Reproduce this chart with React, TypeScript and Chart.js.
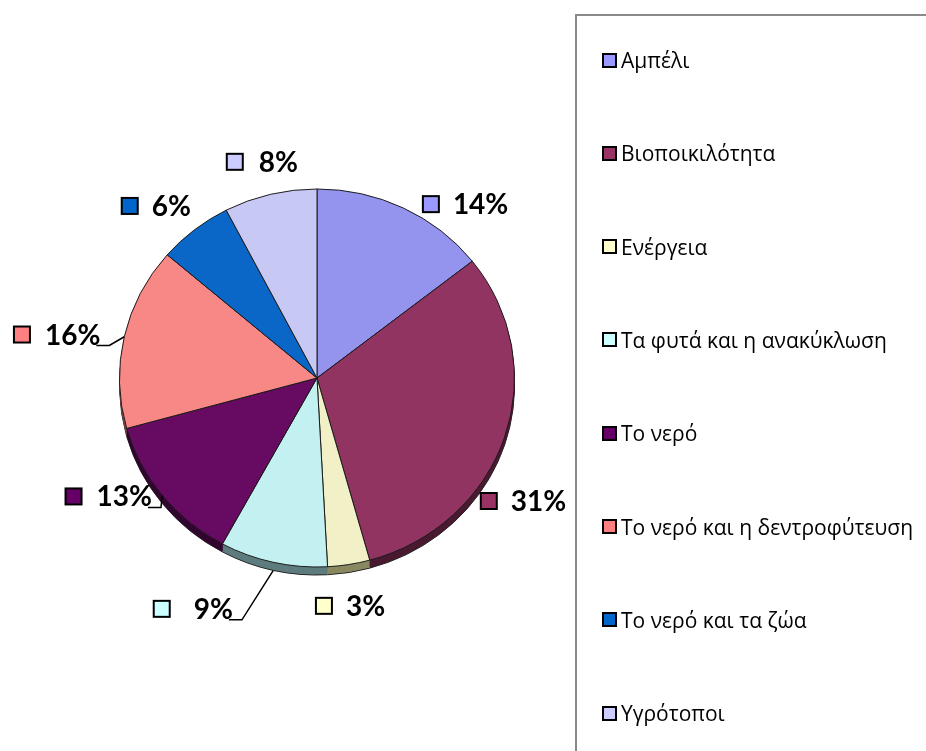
import React, { useEffect, useRef } from "react";
import { Chart, registerables } from "chart.js";

Chart.register(...registerables);

// ---- data ----
const categories = [
  "Αμπέλι",
  "Βιοποικιλότητα",
  "Ενέργεια",
  "Τα φυτά και η ανακύκλωση",
  "Το νερό",
  "Το νερό και η δεντροφύτευση",
  "Το νερό και τα ζώα",
  "Υγρότοποι",
];
// shares (%); labels show them rounded
const shares = [14.4, 31.3, 3.45, 8.8, 12.75, 15.6, 6.1, 7.6];

// ---- styles ----
const sliceColors = ["#9494EF", "#923461", "#F2F0C6", "#C3F0F0", "#660A62", "#F88886", "#0A67C8", "#C8C8F5"];
const keyColors = ["#9999FF", "#993366", "#FFFFCC", "#CCFFFF", "#660066", "#FF8080", "#0066CC", "#CCCCFF"];
const sideColors = ["#4A4A78", "#4A1A30", "#8A8860", "#5E7C7E", "#330531", "#7C4443", "#053464", "#64647A"];
// label placement: angle shift from slice middle (deg), distance in radii, gap box→text, leader line
const labelShift = [14.6, 12.6, 0.9, 15.4, 8.8, -3.1, -4.7, -0.5];
const labelDist = [1.158, 1.217, 1.166, 1.326, 1.213, 1.334, 1.192, 1.129];
const labelGap = [14, 14, 14, 24, 15, 15, 14, 16];
const labelLeader = [false, false, false, true, true, true, false, false];

const SQUASH = 0.957;
const DEPTH = 8;

const pie3d = {
  id: "pie3d",
  beforeDatasetsDraw(chart: any) {
    const meta = chart.getDatasetMeta(0);
    const ctx = chart.ctx;
    const first = meta.data[0];
    if (!first) return;
    // side (depth) of the pie
    for (let d = DEPTH; d >= 1; d--) {
      meta.data.forEach((arc: any, i: number) => {
        const p = arc.getProps(["x", "y", "startAngle", "endAngle", "outerRadius"], true);
        ctx.save();
        ctx.translate(p.x, p.y + d);
        ctx.scale(1, SQUASH);
        ctx.beginPath();
        ctx.moveTo(0, 0);
        ctx.arc(0, 0, p.outerRadius, p.startAngle, p.endAngle);
        ctx.closePath();
        ctx.fillStyle = sideColors[i];
        ctx.fill();
        if (d === DEPTH) {
          ctx.beginPath();
          ctx.arc(0, 0, p.outerRadius, p.startAngle, p.endAngle);
          ctx.strokeStyle = "#222";
          ctx.lineWidth = 1;
          ctx.stroke();
        }
        ctx.restore();
      });
    }
    const { x, y } = first.getProps(["x", "y"], true);
    ctx.save();
    ctx.translate(x, y);
    ctx.scale(1, SQUASH);
    ctx.translate(-x, -y);
  },
  afterDatasetsDraw(chart: any) {
    const meta = chart.getDatasetMeta(0);
    if (!meta.data[0]) return;
    chart.ctx.restore();
  },
  afterDraw(chart: any) {
    const meta = chart.getDatasetMeta(0);
    const ctx = chart.ctx;
    const total = shares.reduce((a, b) => a + b, 0);
    meta.data.forEach((arc: any, i: number) => {
      const p = arc.getProps(["x", "y", "startAngle", "endAngle", "outerRadius"], true);
      const mid = (p.startAngle + p.endAngle) / 2;
      const a = mid + (labelShift[i] * Math.PI) / 180;
      const gx = p.x + Math.cos(a) * p.outerRadius * labelDist[i];
      const gy = p.y + Math.sin(a) * p.outerRadius * labelDist[i];
      const text = Math.round((shares[i] / total) * 100) + "%";
      ctx.save();
      ctx.font = "bold 28px Lato";
      const tw = ctx.measureText(text).width;
      const box = 16;
      const gap = labelGap[i];
      const w = box + 14 + tw;
      const left = gx - w / 2 - (gap - 14) / 2;
      ctx.fillStyle = keyColors[i];
      ctx.fillRect(left, gy - box / 2, box, box);
      ctx.lineWidth = 2;
      ctx.strokeStyle = "#000";
      ctx.strokeRect(left, gy - box / 2, box, box);
      ctx.fillStyle = "#000";
      ctx.textBaseline = "middle";
      ctx.textAlign = "left";
      ctx.fillText(text, left + box + gap, gy + 1);
      if (labelLeader[i]) {
        const tx = left + box + gap + tw;
        const ty = gy + 11;
        const ex = p.x + Math.cos(mid) * p.outerRadius;
        const ey = p.y + Math.sin(mid) * p.outerRadius * SQUASH + (Math.sin(mid) > 0.8 ? DEPTH : 0);
        ctx.beginPath();
        ctx.moveTo(tx - 4, ty);
        ctx.lineTo(tx + 9, ty);
        ctx.lineTo(ex, ey);
        ctx.lineWidth = 1.5;
        ctx.strokeStyle = "#000";
        ctx.stroke();
      }
      ctx.restore();
    });
  },
};

function PieChart() {
  const ref = useRef<HTMLCanvasElement | null>(null);
  useEffect(() => {
    let chart: Chart | null = null;
    let cancelled = false;
    const make = () => {
      if (cancelled || !ref.current) return;
      chart = new Chart(ref.current, {
        type: "pie",
        data: {
          labels: categories,
          datasets: [
            {
              data: shares,
              backgroundColor: sliceColors,
              borderColor: "#1a1a1a",
              borderWidth: 1,
            },
          ],
        },
        options: {
          responsive: false,
          animation: false,
          layout: { padding: { left: 119, right: 411, top: 180, bottom: 175 } },
          plugins: { legend: { display: false }, tooltip: { enabled: false } },
        },
        plugins: [pie3d],
      });
    };
    const fonts: any = (document as any).fonts;
    if (fonts && fonts.load) {
      fonts.load("bold 28px Lato").then(make, make);
    } else make();
    return () => {
      cancelled = true;
      if (chart) chart.destroy();
    };
  }, []);
  return <canvas ref={ref} width={926} height={751} style={{ position: "absolute", left: 0, top: 0 }} />;
}

export default function App() {
  return (
    <div
      style={{
        position: "absolute",
        left: 0,
        top: 0,
        width: 926,
        height: 751,
        overflow: "hidden",
        background: "#fff",
      }}
    >
      <PieChart />
      <div
        style={{
          position: "absolute",
          left: 575,
          top: 14,
          width: 420,
          height: 800,
          border: "2px solid #8a8a8a",
          boxSizing: "border-box",
        }}
      >
        {categories.map((c, i) => (
          <div
            key={c}
            style={{
              position: "absolute",
              left: 25,
              top: 44 + i * 93.3 - 14,
              height: 28,
              display: "flex",
              alignItems: "center",
              whiteSpace: "nowrap",
              fontFamily: "'Open Sans', sans-serif",
              fontSize: 21,
              color: "#000",
            }}
          >
            <span
              style={{
                display: "inline-block",
                width: 15,
                height: 15,
                boxSizing: "border-box",
                border: "2px solid #000",
                background: keyColors[i],
                marginRight: 4,
              }}
            />
            <span>{c}</span>
          </div>
        ))}
      </div>
    </div>
  );
}
